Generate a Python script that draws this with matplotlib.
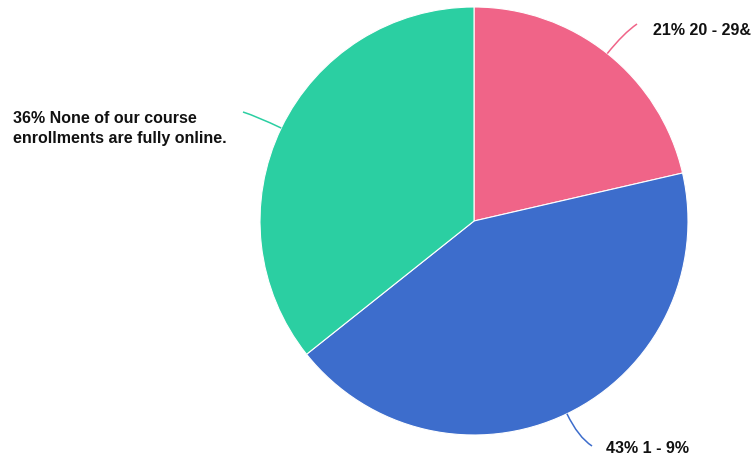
import matplotlib.pyplot as plt
from matplotlib.path import Path
from matplotlib.patches import PathPatch
import numpy as np

# slice data (clockwise from 12 o'clock)
labels = ['20 - 29&', '1 - 9%', 'None of our course\nenrollments are fully online.']
values = [21.4, 42.9, 35.7]
colors = ['#F06488', '#3D6DCC', '#2BCFA2']

plt.rcParams['font.family'] = ['Liberation Sans', 'DejaVu Sans']

fig = plt.figure(figsize=(7.52, 4.64), dpi=100)
ax = fig.add_axes([0, 0, 1, 1])

# pixel-like coordinates, y up
H = 464
cx, cy, r = 474, H - 222, 214
wedges, _ = ax.pie(values, colors=colors, startangle=90, counterclock=False,
                   center=(cx, cy), radius=r,
                   wedgeprops=dict(edgecolor='white', linewidth=0.8))
ax.set_xlim(0, 752)
ax.set_ylim(0, H)
ax.set_aspect('equal')
ax.axis('off')

# label first-line position (left edge, baseline) and leader line ends
text_pos = [(653, 35), (606, 453), (13, 123)]
line_end = [(637, 25), (592, 447), (243, 113)]

for w, v, lab, col, tp, le in zip(wedges, values, labels, colors, text_pos, line_end):
    ang = np.deg2rad((w.theta1 + w.theta2) / 2)
    start = (cx + r * np.cos(ang), cy + r * np.sin(ang))
    ctrl = (cx + (r + 26) * np.cos(ang), cy + (r + 26) * np.sin(ang))
    path = Path([start, ctrl, (le[0], H - le[1])],
                [Path.MOVETO, Path.CURVE3, Path.CURVE3])
    ax.add_patch(PathPatch(path, facecolor='none', edgecolor=col, lw=1.1))
    lines = f'{round(v)}% {lab}'.split('\n')
    for i, ln in enumerate(lines):
        ax.text(tp[0], H - (tp[1] + 20 * i), ln, ha='left', va='baseline',
                fontsize=11.5, fontweight='bold', color='#111111')

fig.savefig('out.png', dpi=100)
